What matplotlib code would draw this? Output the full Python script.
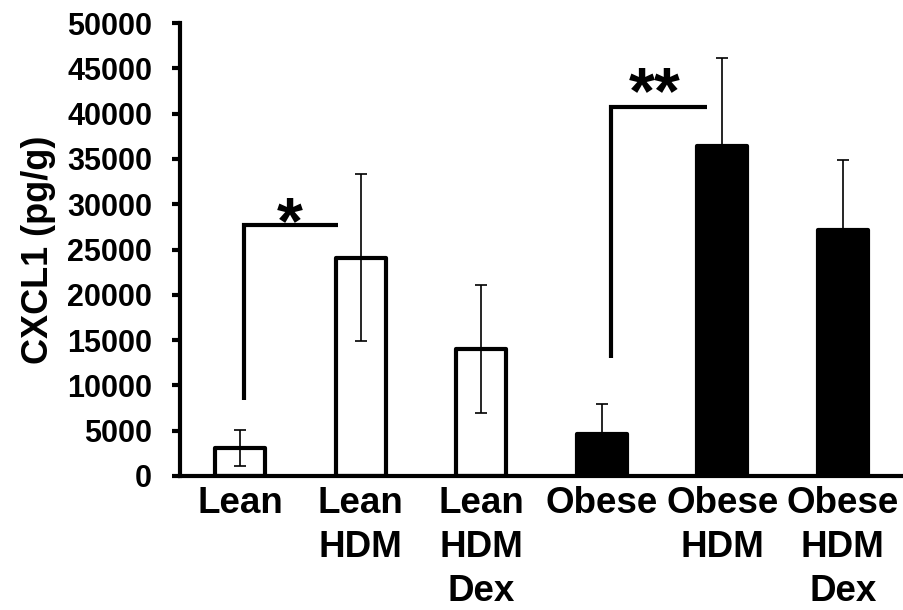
import matplotlib
matplotlib.use("Agg")
import matplotlib.pyplot as plt
import numpy as np

categories = ["Lean", "Lean\nHDM", "Lean\nHDM\nDex", "Obese", "Obese\nHDM", "Obese\nHDM\nDex"]
means = [3100, 24100, 14000, 4600, 36400, 27100]
errors = [1950, 9250, 7100, 3400, 9700, 7800]
fills = ["white", "white", "white", "black", "black", "black"]

yticks = list(range(0, 50001, 5000))

plt.rcParams['font.family'] = ['Liberation Sans', 'DejaVu Sans']
plt.rcParams['font.weight'] = 'bold'

fig = plt.figure(figsize=(9.04, 6.10), dpi=100)
ax = fig.add_axes([0.199, 0.2197, 0.800, 0.7425])

x = np.arange(len(categories))
ax.bar(x, means, width=0.415, color=fills, edgecolor="black", linewidth=3,
       joinstyle="round", zorder=2)
ax.errorbar(x, means, yerr=errors, fmt="none", ecolor="black", elinewidth=1.2,
            capsize=4.5, capthick=1.2, zorder=3)

# significance brackets
lw = 3
ax.plot([0.03, 0.03, 0.81], [8400, 27700, 27700], color="black", lw=lw,
        solid_joinstyle="miter", solid_capstyle="butt", zorder=4)
ax.plot([3.08, 3.08, 3.87], [13000, 40700, 40700], color="black", lw=lw,
        solid_joinstyle="miter", solid_capstyle="butt", zorder=4)
ax.text(0.41, 25700, "*", ha="center", va="baseline", fontsize=48, fontweight="bold")
ax.text(3.44, 40100, "**", ha="center", va="baseline", fontsize=48, fontweight="bold")

ax.set_xlim(-0.5, 5.5)
ax.set_ylim(0, 50000)
ax.set_yticks(yticks)
ax.set_yticklabels([str(v) for v in yticks], fontsize=22, fontweight="bold")
ax.set_xticks(x)
ax.set_xticklabels(categories, fontsize=26.5, fontweight="bold", linespacing=1.33)
ax.tick_params(axis="x", length=0, pad=7)
ax.tick_params(axis="y", length=6, width=3, pad=14)
ax.set_ylabel("CXCL1 (pg/g)", fontsize=26, fontweight="bold", labelpad=8)

for s in ["top", "right"]:
    ax.spines[s].set_visible(False)
for s in ["left", "bottom"]:
    ax.spines[s].set_linewidth(3)

fig.savefig("out.png", dpi=100)
